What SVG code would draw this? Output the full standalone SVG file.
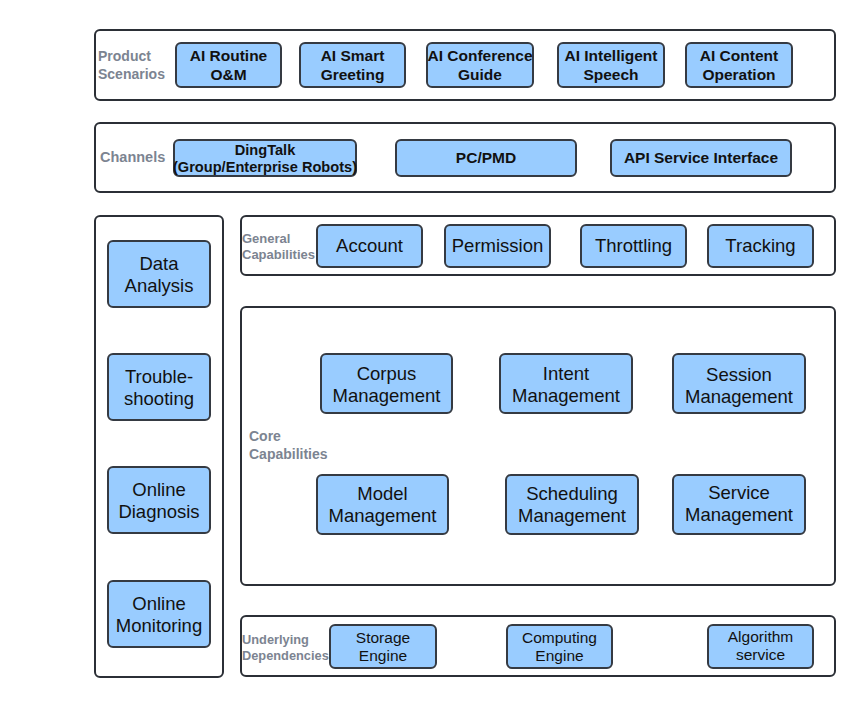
<svg xmlns="http://www.w3.org/2000/svg" width="864" height="706" viewBox="0 0 864 706">
<defs>
<style>
.bg{fill:#ffffff}
.cont{fill:#ffffff;stroke:#2b2f36;stroke-width:2}
.box{fill:#99ccff;stroke:#353a42;stroke-width:2}
.lbl{font-family:"Liberation Sans",Arial,sans-serif;font-weight:bold;fill:#7c8491;font-size:14px}
.lbl2{font-family:"Liberation Sans",Arial,sans-serif;font-weight:bold;fill:#7c8491;font-size:13px}
.tb{font-family:"Liberation Sans",Arial,sans-serif;font-weight:bold;fill:#111;font-size:15.5px;text-anchor:middle}
.tn{font-family:"Liberation Sans",Arial,sans-serif;fill:#111;font-size:18.5px;text-anchor:middle}
.ts{font-family:"Liberation Sans",Arial,sans-serif;fill:#111;font-size:15.5px;text-anchor:middle}
</style>
</defs>
<rect class="bg" x="0" y="0" width="864" height="706"/>
<g id="connectors"></g>

<g id="product-scenarios">
<rect class="cont" x="95" y="30" width="740" height="70" rx="5"/>
<text class="lbl"><tspan x="98" y="61">Product</tspan><tspan x="98" y="79">Scenarios</tspan></text>
</g>
<g id="ai-routine"><rect class="box" x="176" y="43" width="105" height="44" rx="5"/><text class="tb"><tspan x="228.5" y="61">AI Routine</tspan><tspan x="228.5" y="80">O&amp;M</tspan></text></g>
<g id="ai-smart"><rect class="box" x="300" y="43" width="105" height="44" rx="5"/><text class="tb"><tspan x="352.5" y="61">AI Smart</tspan><tspan x="352.5" y="80">Greeting</tspan></text></g>
<g id="ai-conference"><rect class="box" x="427" y="43" width="106" height="44" rx="5"/><text class="tb"><tspan x="480" y="61">AI Conference</tspan><tspan x="480" y="80">Guide</tspan></text></g>
<g id="ai-speech"><rect class="box" x="558" y="43" width="106" height="44" rx="5"/><text class="tb"><tspan x="611" y="61">AI Intelligent</tspan><tspan x="611" y="80">Speech</tspan></text></g>
<g id="ai-content"><rect class="box" x="686" y="43" width="106" height="44" rx="5"/><text class="tb"><tspan x="739" y="61">AI Content</tspan><tspan x="739" y="80">Operation</tspan></text></g>

<g id="channels">
<rect class="cont" x="95" y="123" width="740" height="69" rx="5"/>
<text class="lbl" style="font-size:14.5px" x="100" y="162">Channels</text>
</g>
<g id="dingtalk"><rect class="box" x="174" y="140" width="182" height="36" rx="5"/><text class="tb" style="font-size:14.6px"><tspan x="265" y="155">DingTalk</tspan><tspan x="265" y="172">(Group/Enterprise Robots)</tspan></text></g>
<g id="pcpmd"><rect class="box" x="396" y="140" width="180" height="36" rx="5"/><text class="tb" x="486" y="163">PC/PMD</text></g>
<g id="api"><rect class="box" x="611" y="140" width="180" height="36" rx="5"/><text class="tb" x="701" y="163">API Service Interface</text></g>

<g id="ops-column">
<rect class="cont" x="95" y="216" width="128" height="461" rx="5"/>
</g>
<g id="data-analysis"><rect class="box" x="108" y="241" width="102" height="66" rx="5"/><text class="tn"><tspan x="159" y="270">Data</tspan><tspan x="159" y="292">Analysis</tspan></text></g>
<g id="troubleshooting"><rect class="box" x="108" y="354" width="102" height="66" rx="5"/><text class="tn"><tspan x="159" y="383">Trouble-</tspan><tspan x="159" y="405">shooting</tspan></text></g>
<g id="online-diagnosis"><rect class="box" x="108" y="467" width="102" height="66" rx="5"/><text class="tn"><tspan x="159" y="496">Online</tspan><tspan x="159" y="518">Diagnosis</tspan></text></g>
<g id="online-monitoring"><rect class="box" x="108" y="581" width="102" height="66" rx="5"/><text class="tn"><tspan x="159" y="610">Online</tspan><tspan x="159" y="632">Monitoring</tspan></text></g>

<g id="general-capabilities">
<rect class="cont" x="241" y="216" width="594" height="59" rx="5"/>
<text class="lbl2"><tspan x="242" y="243">General</tspan><tspan x="242" y="259">Capabilities</tspan></text>
</g>
<g id="account"><rect class="box" x="317" y="225" width="105" height="42" rx="5"/><text class="tn" x="369.5" y="252">Account</text></g>
<g id="permission"><rect class="box" x="445" y="225" width="105" height="42" rx="5"/><text class="tn" x="497.5" y="252">Permission</text></g>
<g id="throttling"><rect class="box" x="581" y="225" width="105" height="42" rx="5"/><text class="tn" x="633.5" y="252">Throttling</text></g>
<g id="tracking"><rect class="box" x="708" y="225" width="105" height="42" rx="5"/><text class="tn" x="760.5" y="252">Tracking</text></g>

<g id="core-capabilities">
<rect class="cont" x="241" y="307" width="594" height="278" rx="5"/>
<text class="lbl" style="font-size:14px"><tspan x="249" y="441">Core</tspan><tspan x="249" y="459">Capabilities</tspan></text>
</g>
<g id="corpus"><rect class="box" x="321" y="354" width="131" height="59" rx="5"/><text class="tn"><tspan x="386.5" y="380">Corpus</tspan><tspan x="386.5" y="402">Management</tspan></text></g>
<g id="intent"><rect class="box" x="500" y="354" width="132" height="59" rx="5"/><text class="tn"><tspan x="566" y="380">Intent</tspan><tspan x="566" y="402">Management</tspan></text></g>
<g id="session"><rect class="box" x="673" y="354" width="132" height="59" rx="5"/><text class="tn"><tspan x="739" y="381">Session</tspan><tspan x="739" y="403">Management</tspan></text></g>
<g id="model"><rect class="box" x="317" y="475" width="131" height="59" rx="5"/><text class="tn"><tspan x="382.5" y="500">Model</tspan><tspan x="382.5" y="522">Management</tspan></text></g>
<g id="scheduling"><rect class="box" x="506" y="475" width="132" height="59" rx="5"/><text class="tn"><tspan x="572" y="500">Scheduling</tspan><tspan x="572" y="522">Management</tspan></text></g>
<g id="service"><rect class="box" x="673" y="475" width="132" height="59" rx="5"/><text class="tn"><tspan x="739" y="499">Service</tspan><tspan x="739" y="521">Management</tspan></text></g>

<g id="underlying-dependencies">
<rect class="cont" x="241" y="616" width="594" height="60" rx="5"/>
<text class="lbl2" style="font-size:12.8px"><tspan x="242" y="644">Underlying</tspan><tspan x="242" y="660">Dependencies</tspan></text>
</g>
<g id="storage"><rect class="box" x="330" y="625" width="106" height="43" rx="5"/><text class="ts"><tspan x="383" y="643">Storage</tspan><tspan x="383" y="661">Engine</tspan></text></g>
<g id="computing"><rect class="box" x="507" y="625" width="105" height="43" rx="5"/><text class="ts"><tspan x="559.5" y="643">Computing</tspan><tspan x="559.5" y="661">Engine</tspan></text></g>
<g id="algorithm"><rect class="box" x="708" y="625" width="105" height="43" rx="5"/><text class="ts"><tspan x="760.5" y="642">Algorithm</tspan><tspan x="760.5" y="660">service</tspan></text></g>
</svg>
